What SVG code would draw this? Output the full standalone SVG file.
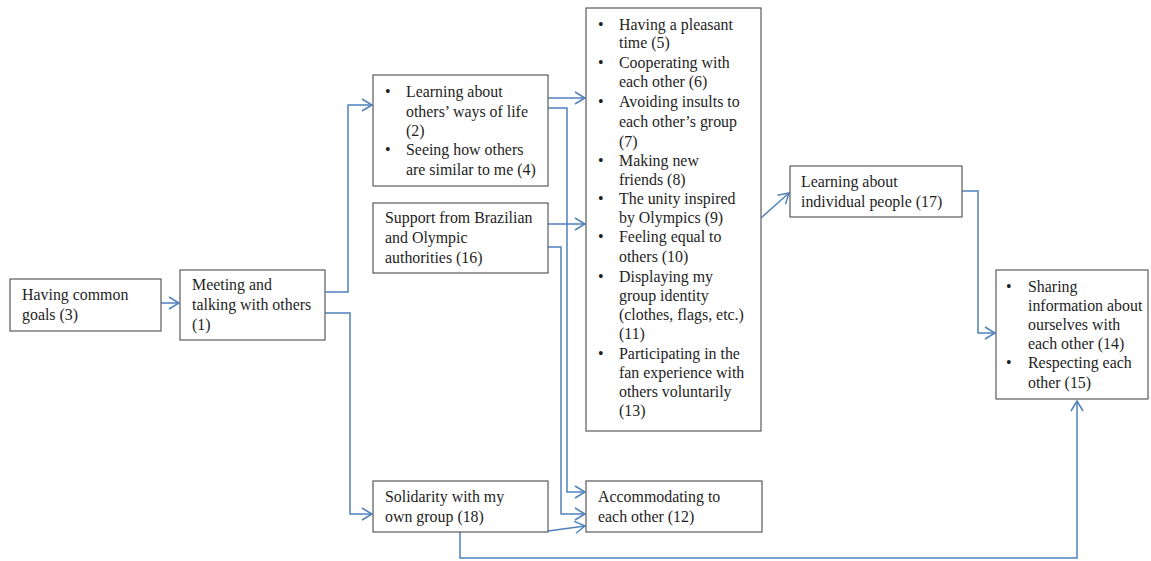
<svg xmlns="http://www.w3.org/2000/svg" width="1151" height="561" viewBox="0 0 1151 561">
  <style>
    .box { fill: #ffffff; stroke: #5a5a5a; stroke-width: 1.2; }
    .t { font-family: "Liberation Serif", "Times New Roman", serif; font-size: 15.9px; fill: #1e1e1e; }
    .link { fill: none; stroke: #4f81bd; stroke-width: 1.5; }
  </style>
  <defs>
    <marker id="arr" markerUnits="userSpaceOnUse" markerWidth="14" markerHeight="14" refX="11" refY="7" orient="auto">
      <path d="M1,1 L11,7 L1,13" fill="none" stroke="#4f81bd" stroke-width="1.5"/>
    </marker>
  </defs>
  <rect width="1151" height="561" fill="#ffffff"/>

  <g id="connectors">
    <path class="link" d="M161,303 L179,303" marker-end="url(#arr)"/>
    <path class="link" d="M325,292 L348,292 L348,105 L372,105" marker-end="url(#arr)"/>
    <path class="link" d="M325,313 L350,313 L350,514 L372,514" marker-end="url(#arr)"/>
    <path class="link" d="M548,98 L585,98" marker-end="url(#arr)"/>
    <path class="link" d="M548,108 L567,108 L567,492 L585,492" marker-end="url(#arr)"/>
    <path class="link" d="M548,224 L585,224" marker-end="url(#arr)"/>
    <path class="link" d="M548,247 L561,247 L561,514 L585,514" marker-end="url(#arr)"/>
    <path class="link" d="M548,531 L585,526" marker-end="url(#arr)"/>
    <path class="link" d="M761,218 L789,193" marker-end="url(#arr)"/>
    <path class="link" d="M962,191 L978,191 L978,333 L995,333" marker-end="url(#arr)"/>
    <path class="link" d="M460,532 L460,558 L1077,558 L1077,401" marker-end="url(#arr)"/>
  </g>

  <g id="n3">
    <rect class="box" x="10" y="279" width="151" height="52"/>
    <text class="t" x="22" y="300">Having common</text>
    <text class="t" x="22" y="320">goals (3)</text>
  </g>

  <g id="n1">
    <rect class="box" x="180" y="270" width="145" height="70"/>
    <text class="t" x="192" y="290">Meeting and</text>
    <text class="t" x="192" y="310">talking with others</text>
    <text class="t" x="192" y="330">(1)</text>
  </g>

  <g id="n2-4">
    <rect class="box" x="373" y="75" width="175" height="111"/>
    <text class="t" x="385" y="97">•</text>
    <text class="t" x="406" y="97">Learning about</text>
    <text class="t" x="406" y="117">others’ ways of life</text>
    <text class="t" x="406" y="136">(2)</text>
    <text class="t" x="385" y="155">•</text>
    <text class="t" x="406" y="155">Seeing how others</text>
    <text class="t" x="406" y="175">are similar to me (4)</text>
  </g>

  <g id="n16">
    <rect class="box" x="373" y="203" width="175" height="70"/>
    <text class="t" x="385" y="223">Support from Brazilian</text>
    <text class="t" x="385" y="243">and Olympic</text>
    <text class="t" x="385" y="263">authorities (16)</text>
  </g>

  <g id="n5-13">
    <rect class="box" x="586" y="8" width="175" height="423"/>
    <g class="t">
      <text x="598" y="30">•</text>
      <text x="619" y="30">Having a pleasant</text>
      <text x="619" y="48">time (5)</text>
      <text x="598" y="68">•</text>
      <text x="619" y="68">Cooperating with</text>
      <text x="619" y="87">each other (6)</text>
      <text x="598" y="107">•</text>
      <text x="619" y="107">Avoiding insults to</text>
      <text x="619" y="127">each other’s group</text>
      <text x="619" y="147">(7)</text>
      <text x="598" y="166">•</text>
      <text x="619" y="166">Making new</text>
      <text x="619" y="185">friends (8)</text>
      <text x="598" y="204">•</text>
      <text x="619" y="204">The unity inspired</text>
      <text x="619" y="223">by Olympics (9)</text>
      <text x="598" y="242">•</text>
      <text x="619" y="242">Feeling equal to</text>
      <text x="619" y="262">others (10)</text>
      <text x="598" y="282">•</text>
      <text x="619" y="282">Displaying my</text>
      <text x="619" y="301">group identity</text>
      <text x="619" y="320">(clothes, flags, etc.)</text>
      <text x="619" y="339">(11)</text>
      <text x="598" y="359">•</text>
      <text x="619" y="359">Participating in the</text>
      <text x="619" y="378">fan experience with</text>
      <text x="619" y="397">others voluntarily</text>
      <text x="619" y="416">(13)</text>
    </g>
  </g>

  <g id="n17">
    <rect class="box" x="790" y="166" width="172" height="51"/>
    <text class="t" x="801" y="187">Learning about</text>
    <text class="t" x="801" y="207">individual people (17)</text>
  </g>

  <g id="n14-15">
    <rect class="box" x="996" y="270" width="152" height="129"/>
    <text class="t" x="1006" y="292">•</text>
    <text class="t" x="1028" y="292">Sharing</text>
    <text class="t" x="1028" y="311">information about</text>
    <text class="t" x="1028" y="330">ourselves with</text>
    <text class="t" x="1028" y="349">each other (14)</text>
    <text class="t" x="1006" y="368">•</text>
    <text class="t" x="1028" y="368">Respecting each</text>
    <text class="t" x="1028" y="388">other (15)</text>
  </g>

  <g id="n18">
    <rect class="box" x="373" y="481" width="175" height="51"/>
    <text class="t" x="385" y="502">Solidarity with my</text>
    <text class="t" x="385" y="522">own group (18)</text>
  </g>

  <g id="n12">
    <rect class="box" x="586" y="481" width="176" height="51"/>
    <text class="t" x="598" y="502">Accommodating to</text>
    <text class="t" x="598" y="522">each other (12)</text>
  </g>
</svg>
